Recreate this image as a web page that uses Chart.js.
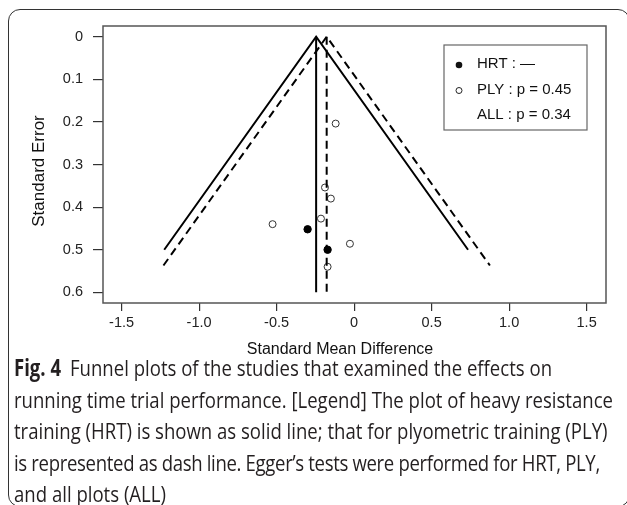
<!DOCTYPE html>
<html>
<head>
<meta charset="utf-8">
<script src="https://cdn.jsdelivr.net/npm/chart.js@4.4.1/dist/chart.umd.min.js"></script>
<style>
  html, body { margin: 0; padding: 0; background: #fff; width: 627px; height: 505px; overflow: hidden; }
  #frame { position: absolute; left: 8px; top: 9px; width: 622px; height: 498px; box-sizing: border-box;
           border: 1.5px solid #333; border-radius: 12px; }
  #chart { position: absolute; left: 0; top: 0; }
  #caption { position: absolute; left: 14px; top: 352px; font-family: "Open Sans"; font-size: 22.5px;
             line-height: 31.5px; color: #231f20; white-space: nowrap;
             transform: scaleX(0.825); transform-origin: 0 0; }
  #caption b { font-weight: 700; margin-right: 5px; }
  #caption .tight { letter-spacing: -0.4px; }
</style>
</head>
<body>
<div id="frame"></div>
<canvas id="chart" width="627" height="360"></canvas>
<div id="caption">
  <div><b>Fig. 4</b> Funnel plots of the studies that examined the effects on</div>
  <div>running time trial performance. [Legend] The plot of heavy resistance</div>
  <div>training (HRT) is shown as solid line; that for plyometric training (PLY)</div>
  <div class="tight">is represented as dash line. Egger’s tests were performed for HRT, PLY,</div>
  <div>and all plots (ALL)</div>
</div>
<script>
// studies: x = standard mean difference, y = standard error
const hrtStudies = [
  { x: -0.30, y: 0.452 },
  { x: -0.171, y: 0.50 },
];
const plyStudies = [
  { x: -0.526, y: 0.440 },
  { x: -0.119, y: 0.204 },
  { x: -0.188, y: 0.354 },
  { x: -0.150, y: 0.380 },
  { x: -0.214, y: 0.427 },
  { x: -0.027, y: 0.486 },
  { x: -0.171, y: 0.540 },
];

// funnel outlines and pooled-effect lines
const hrtFunnel = [{ x: -1.225, y: 0.50 }, { x: -0.245, y: 0 }, { x: 0.735, y: 0.50 }];
const hrtPooled = [{ x: -0.245, y: 0 }, { x: -0.245, y: 0.60 }];
const plyFunnel = [{ x: -1.23, y: 0.537 }, { x: -0.177, y: 0 }, { x: 0.876, y: 0.537 }];
const plyPooled = [{ x: -0.177, y: 0 }, { x: -0.177, y: 0.60 }];

const xTicks = [-1.5, -1.0, -0.5, 0, 0.5, 1.0, 1.5];
const xTickLabels = ["-1.5", "-1.0", "-0.5", "0", "0.5", "1.0", "1.5"];
const yTicks = [0, 0.1, 0.2, 0.3, 0.4, 0.5, 0.6];
const yTickLabels = ["0", "0.1", "0.2", "0.3", "0.4", "0.5", "0.6"];

const xTitle = "Standard Mean Difference";
const yTitle = "Standard Error";

const legendLabels = ["HRT : \u2014", "PLY : p = 0.45", "ALL : p = 0.34"];
const legendMarkers = ["filled", "open", "none"];

const FONT = "'Liberation Sans', Arial, sans-serif";

// box around the plot region
const framePlugin = {
  id: "frame",
  beforeDatasetsDraw(chart) {
    const a = chart.chartArea, ctx = chart.ctx;
    ctx.save();
    ctx.strokeStyle = "#555";
    ctx.lineWidth = 1.5;
    ctx.strokeRect(a.left, a.top, a.right - a.left, a.bottom - a.top);
    ctx.restore();
  },
};

// axis titles (R places them slightly off the plot centre)
const axisTitles = {
  id: "axisTitles",
  afterDraw(chart) {
    const ctx = chart.ctx;
    ctx.save();
    ctx.fillStyle = "#111";
    ctx.textAlign = "center";
    ctx.textBaseline = "middle";
    ctx.font = "16px " + FONT;
    ctx.fillText(xTitle, 340, 350);
    ctx.translate(39, 171);
    ctx.rotate(-Math.PI / 2);
    ctx.font = "17px " + FONT;
    ctx.fillText(yTitle, 0, 0);
    ctx.restore();
  },
};

// boxed legend in the top right
const legendBox = {
  id: "legendBox",
  afterDraw(chart) {
    const ctx = chart.ctx;
    ctx.save();
    ctx.strokeStyle = "#666";
    ctx.lineWidth = 1.2;
    ctx.strokeRect(444, 45, 143, 85);
    ctx.font = "15px " + FONT;
    ctx.fillStyle = "#111";
    ctx.textBaseline = "middle";
    legendLabels.forEach((txt, i) => {
      const y = 64 + i * 25.5;
      if (legendMarkers[i] === "filled") {
        ctx.beginPath(); ctx.arc(459, y + 1, 3.3, 0, Math.PI * 2); ctx.fill();
      } else if (legendMarkers[i] === "open") {
        ctx.beginPath(); ctx.arc(459, y + 1, 3, 0, Math.PI * 2);
        ctx.lineWidth = 1; ctx.strokeStyle = "#222"; ctx.stroke();
      }
      ctx.fillText(txt, 477, y);
    });
    ctx.restore();
  },
};

const lineStyle = { showLine: true, pointRadius: 0, borderColor: "#000", borderWidth: 2, fill: false };

new Chart(document.getElementById("chart"), {
  type: "scatter",
  data: {
    datasets: [
      { ...lineStyle, data: hrtFunnel },
      { ...lineStyle, data: hrtPooled },
      { ...lineStyle, data: plyFunnel, borderDash: [8, 5] },
      { ...lineStyle, data: plyPooled, borderDash: [8, 5] },
      { data: plyStudies, pointRadius: 3.5, pointBackgroundColor: "#fff", pointBorderColor: "#333", pointBorderWidth: 1 },
      { data: hrtStudies, pointRadius: 3.7, pointBackgroundColor: "#000", pointBorderColor: "#000", pointBorderWidth: 1 },
    ],
  },
  options: {
    responsive: false,
    animation: false,
    devicePixelRatio: 1,
    layout: { padding: { left: 0, top: 26, right: 21, bottom: 0 } },
    plugins: { legend: { display: false }, tooltip: { enabled: false } },
    scales: {
      x: {
        type: "linear",
        min: -1.62,
        max: 1.625,
        afterBuildTicks: (s) => { s.ticks = xTicks.map((v) => ({ value: v })); },
        afterFit: (s) => { s.height = 57; },
        ticks: {
          callback: (v, i) => xTickLabels[i],
          font: { family: FONT, size: 14.5 },
          color: "#222",
          padding: 3,
          maxRotation: 0,
        },
        grid: { drawOnChartArea: false, tickLength: 8, color: "#333", lineWidth: 1.2 },
        border: { display: false },
      },
      y: {
        type: "linear",
        reverse: true,
        min: -0.025,
        max: 0.625,
        afterBuildTicks: (s) => { s.ticks = yTicks.map((v) => ({ value: v })); },
        afterFit: (s) => { s.width = 103; },
        ticks: {
          callback: (v, i) => yTickLabels[i],
          font: { family: FONT, size: 14.5 },
          color: "#222",
          padding: 10,
        },
        grid: { drawOnChartArea: false, tickLength: 10, color: "#333", lineWidth: 1.2 },
        border: { display: false },
      },
    },
  },
  plugins: [framePlugin, axisTitles, legendBox],
});
</script>
</body>
</html>
